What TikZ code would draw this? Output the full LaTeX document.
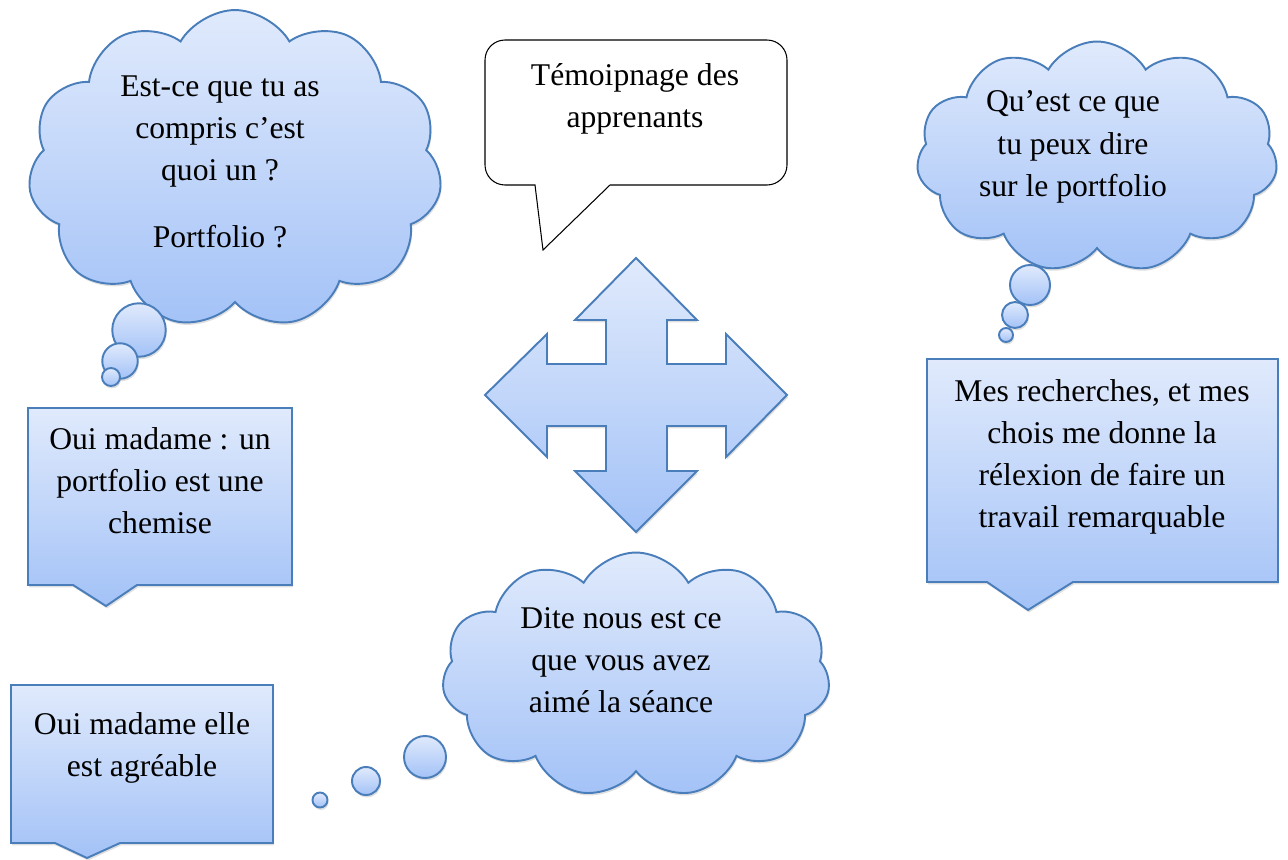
\documentclass[tikz,border=0pt]{standalone}
\usepackage{fontspec}
\setmainfont{Liberation Serif}
\usetikzlibrary{shapes.symbols,shadows}
\definecolor{puffline}{RGB}{74,126,187}
\definecolor{pufftop}{RGB}{224,234,252}
\definecolor{puffbot}{RGB}{163,194,247}

\begin{document}
\begin{tikzpicture}[x=0.02cm,y=-0.02cm,
  puff/.style={draw=puffline,line width=1.1pt,top color=pufftop,bottom color=puffbot,
    drop shadow={opacity=0.25,shadow xshift=0.6pt,shadow yshift=-1.4pt}},
  bubble/.style={puff,circle,inner sep=0pt},
  cloudbox/.style={puff,cloud,cloud puffs=11,cloud puff arc=120,cloud ignores aspect,inner sep=0pt},
  say/.style={font=\fontsize{18}{24}\selectfont,align=center}]
\useasboundingbox (0,0) rectangle (1288,859);
% thought clouds and their bubbles
\node[cloudbox,minimum width=8.28cm,minimum height=6.36cm] (cl1) at (235,169) {};
\node[cloudbox,minimum width=7.22cm,minimum height=4.62cm] (cl2) at (1097,157) {};
\node[cloudbox,minimum width=7.76cm,minimum height=4.9cm] (cl3) at (636,675) {};
\foreach \x/\y/\d [count=\i] in {139/330/1.07,120/361/0.71,111/377/0.36,
  1030/285/0.8,1015/315/0.52,1006/335/0.28,
  425/757/0.84,366/781/0.56,320/800/0.3}
  \node[bubble,minimum size=\d cm] (bub\i) at (\x,\y) {};
% speech bubble
\coordinate (tip) at (543,250);
\draw[line width=0.6pt,fill=white] (535,185) -- (tip) -- (610,185) -- (767,185)
  arc[start angle=-90,end angle=0,radius=0.4cm] -- (787,60)
  arc[start angle=0,end angle=90,radius=0.4cm] -- (505,40)
  arc[start angle=90,end angle=180,radius=0.4cm] -- (485,165)
  arc[start angle=180,end angle=270,radius=0.4cm] -- cycle;
% four way arrow
\draw[puff] (636,258) -- (697,320) -- (667,320) -- (667,364) -- (726,364) -- (726,334)
  -- (787,395) -- (726,457) -- (726,426) -- (667,426) -- (667,471) -- (697,471)
  -- (636,532) -- (575,471) -- (606,471) -- (606,426) -- (547,426) -- (547,457)
  -- (485,395) -- (547,334) -- (547,364) -- (606,364) -- (606,320) -- (575,320) -- cycle;
% answer boxes
\draw[puff] (28,408) -- (292,408) -- (292,585) -- (137,585) -- (106,606) -- (73,585) -- (28,585) -- cycle;
\draw[puff] (11,685) -- (273,685) -- (273,843) -- (120,843) -- (87,858) -- (55,843) -- (11,843) -- cycle;
\draw[puff] (927,359) -- (1278,359) -- (1278,582) -- (1073,582) -- (1028,610) -- (987,582) -- (927,582) -- cycle;
% texts
\node[say] (q1) at (220,162) {Est-ce que tu as\\compris c’est\\quoi un ?\\[14pt]Portfolio ?};
\node[say] (head) at (635,99) {Témoipnage des\\apprenants};
\node[say] (q2) at (1073,147) {Qu’est ce que\\tu peux dire\\sur le portfolio};
\node[say] (a1) at (160,481) {Oui madame : un\\portfolio est une\\chemise};
\node[say] (a2) at (142,748) {Oui madame elle\\est agréable};
\node[say] (q3) at (621,660) {Dite nous est ce\\que vous avez\\aimé la séance};
\node[say] (a3) at (1102,457) {Mes recherches, et mes\\chois me donne la\\rélexion de faire un\\travail remarquable};
\end{tikzpicture}
\end{document}
